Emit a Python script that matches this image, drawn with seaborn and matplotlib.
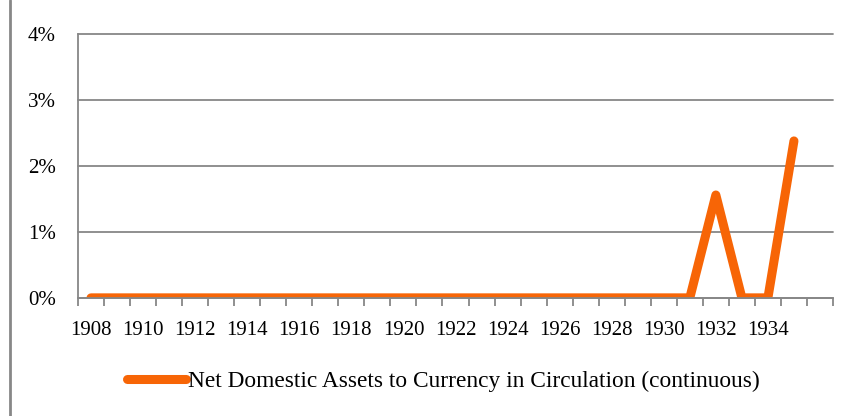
import numpy as np
import pandas as pd
import seaborn as sns
import matplotlib
matplotlib.use("Agg")
import matplotlib.pyplot as plt
from matplotlib.ticker import FixedLocator, FuncFormatter

# data (percent of currency in circulation)
years = list(range(1908, 1936))
values = [0.0] * 24 + [1.56, 0.0, 0.0, 2.38]
series_name = "Net Domestic Assets to Currency in Circulation (continuous)"

df = pd.DataFrame({"Year": years, "Value": values})

sns.set_style("white")
plt.rcParams["font.family"] = ["Liberation Serif", "DejaVu Serif"]
plt.rcParams["text.color"] = "black"
plt.rcParams["xtick.labelcolor"] = "black"
plt.rcParams["ytick.labelcolor"] = "black"

ORANGE = "#F76506"
GRAY = "#878787"

fig = plt.figure(figsize=(8.57, 4.16), dpi=100)
ax = fig.add_axes([0.091, 0.284, 0.881, 0.634])

sns.lineplot(data=df, x="Year", y="Value", ax=ax, color=ORANGE,
             linewidth=6.5, solid_capstyle="round", solid_joinstyle="round",
             label=series_name)

ax.set_xlim(1907.5, 1936.5)
ax.set_ylim(0, 4)

# gridlines and y axis
ax.set_yticks([0, 1, 2, 3, 4])
ax.yaxis.set_major_formatter(FuncFormatter(lambda v, p: f"{v:.0f}%"))
ax.grid(axis="y", color=GRAY, linewidth=1.3, clip_on=False)
ax.set_axisbelow(True)

# category style x axis: tick marks on boundaries, labels in the middle
ax.xaxis.set_major_locator(FixedLocator(np.arange(1907.5, 1937, 1.0)))
ax.xaxis.set_major_formatter(FuncFormatter(lambda v, p: ""))
ax.xaxis.set_minor_locator(FixedLocator(years[::2]))
ax.xaxis.set_minor_formatter(FuncFormatter(lambda v, p: f"{v:.0f}"))
ax.tick_params(axis="x", which="major", direction="out", length=6,
               width=1.3, color=GRAY, bottom=True)
ax.tick_params(axis="x", which="minor", length=0, pad=17, labelsize=15,
               labelcolor="black")
ax.tick_params(axis="y", length=0, pad=16, labelsize=15, labelcolor="black")

for s in ["top", "right"]:
    ax.spines[s].set_visible(False)
for s in ["left", "bottom"]:
    ax.spines[s].set_color(GRAY)
    ax.spines[s].set_linewidth(1.3)

ax.set_xlabel("")
ax.set_ylabel("")

leg = ax.legend(loc="center", bbox_to_anchor=(0.5175, 0.084),
                bbox_transform=fig.transFigure, frameon=False,
                fontsize=16.8, handlelength=2.5, handletextpad=0.1,
                labelcolor="black")

# left frame line of the figure
fig.add_artist(plt.Line2D([0.0117, 0.0117], [0, 1], color=GRAY,
                          linewidth=2, transform=fig.transFigure))

fig.savefig("out.png", dpi=100)
